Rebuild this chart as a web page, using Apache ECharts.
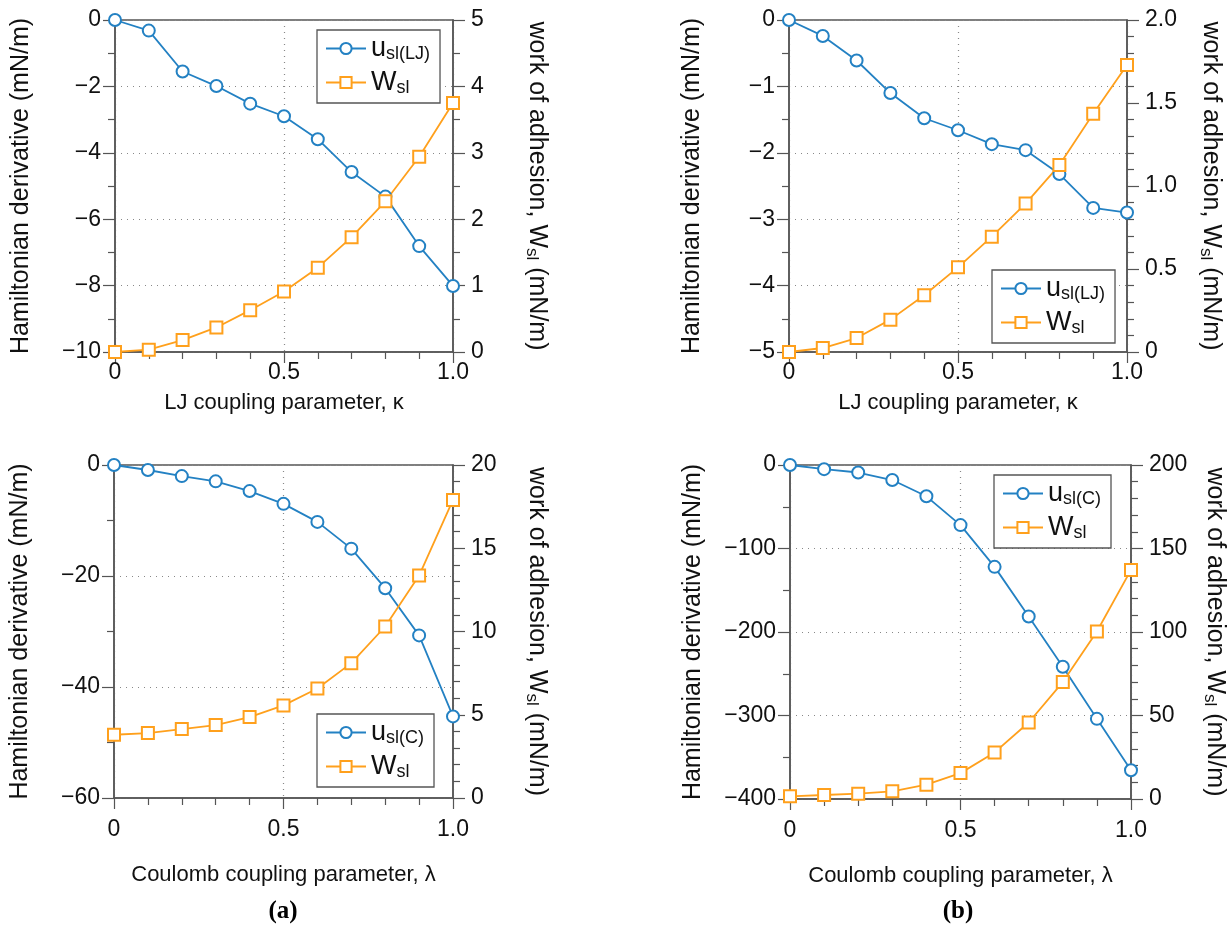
<!DOCTYPE html>
<html>
<head>
<meta charset="utf-8">
<script src="https://cdn.jsdelivr.net/npm/echarts@6/dist/echarts.min.js"></script>
<style>
  html, body { margin: 0; padding: 0; background: #fff; }
  #chart { width: 1232px; height: 929px; }
</style>
</head>
<body>
<div id="chart"></div>
<script>
// coupling parameter values (kappa for LJ, lambda for Coulomb)
const coupling = [0, 0.1, 0.2, 0.3, 0.4, 0.5, 0.6, 0.7, 0.8, 0.9, 1.0]

// (a) LJ
const uLJ_a = [0, -0.32, -1.55, -1.99, -2.52, -2.90, -3.59, -4.58, -5.32, -6.81, -8.01]
const wLJ_a = [0, 0.035, 0.18, 0.37, 0.63, 0.91, 1.27, 1.73, 2.27, 2.94, 3.75]
// (b) LJ
const uLJ_b = [0, -0.24, -0.61, -1.10, -1.48, -1.66, -1.87, -1.96, -2.32, -2.83, -2.90]
const wLJ_b = [0, 0.024, 0.084, 0.195, 0.342, 0.51, 0.695, 0.894, 1.126, 1.435, 1.729]
// (a) Coulomb
const uC_a = [0, -0.9, -2.0, -2.95, -4.7, -7.0, -10.25, -15.07, -22.2, -30.7, -45.3]
const wC_a = [3.80, 3.90, 4.14, 4.38, 4.86, 5.56, 6.58, 8.10, 10.3, 13.36, 17.9]
// (b) Coulomb
const uC_b = [0, -5, -9, -18, -37.5, -72, -122, -181.5, -241.6, -304, -365.6]
const wC_b = [1.6, 2.4, 3.2, 4.6, 8.6, 15.5, 27.9, 45.8, 70, 100.3, 137.2]

const BLUE = '#2381c3'
const ORANGE = '#ffa01c'
const AXIS = '#555'
const FONT = 'Liberation Sans'

const pts = ys => coupling.map((x, i) => [x, ys[i]])
const minus = v => (v < 0 ? '\u2212' + (-v) : String(v))
const oneDec = v => (v === 0 ? '0' : v.toFixed(1))

const grids = [
  { left: 115, top: 20, width: 338, height: 332 },
  { left: 789, top: 20, width: 338, height: 332 },
  { left: 114, top: 465, width: 339, height: 333 },
  { left: 790, top: 465, width: 341, height: 334 }
]

const xNames = [
  'LJ coupling parameter, \u03ba',
  'LJ coupling parameter, \u03ba',
  'Coulomb coupling parameter, \u03bb',
  'Coulomb coupling parameter, \u03bb'
]

const makeX = (i) => ({
  type: 'value',
  gridIndex: i,
  position: 'bottom',
  min: 0,
  max: 1,
  interval: 0.5,
  name: xNames[i],
  nameLocation: 'middle',
  nameGap: i < 2 ? 40 : 66,
  nameTextStyle: { fontFamily: FONT, fontSize: 22, color: '#111' },
  axisLine: { onZero: false, lineStyle: { color: AXIS, width: 1.5 } },
  axisTick: { inside: false, length: 11, lineStyle: { color: AXIS, width: 1.2 } },
  minorTick: { show: true, splitNumber: 5, length: 7, lineStyle: { color: AXIS, width: 1.2 } },
  axisLabel: { fontFamily: FONT, fontSize: 23, color: '#111', margin: i < 2 ? 9 : 20, formatter: oneDec },
  splitLine: { show: true, lineStyle: { color: '#888', type: [1, 5], width: 1.2 } }
})

const makeLeftY = (i, min, interval, split) => ({
  type: 'value',
  gridIndex: i,
  position: 'left',
  min: min,
  max: 0,
  interval: interval,
  name: 'Hamiltonian derivative (mN/m)',
  nameLocation: 'middle',
  nameGap: i % 2 === 0 ? 81 : 84,
  nameTextStyle: { fontFamily: FONT, fontSize: 25, color: '#111' },
  axisLine: { show: true, onZero: false, lineStyle: { color: AXIS, width: 1.5 } },
  axisTick: { inside: false, length: 12, lineStyle: { color: AXIS, width: 1.2 } },
  minorTick: { show: true, splitNumber: split, length: 7, lineStyle: { color: AXIS, width: 1.2 } },
  axisLabel: { fontFamily: FONT, fontSize: 23, color: '#111', margin: 14, formatter: minus },
  splitLine: { show: true, lineStyle: { color: '#888', type: [1, 5], width: 1.2 } }
})

const makeRightY = (i, max, interval, split, fmt) => ({
  type: 'value',
  gridIndex: i,
  position: 'right',
  min: 0,
  max: max,
  interval: interval,
  name: 'work of adhesion, W{s|sl} (mN/m)',
  nameLocation: 'middle',
  nameRotate: -90,
  nameGap: 70,
  nameTextStyle: {
    fontFamily: FONT, fontSize: 25, color: '#111', lineHeight: 28,
    rich: { s: { fontFamily: FONT, fontSize: 17, lineHeight: 17, verticalAlign: 'bottom', color: '#111' } }
  },
  axisLine: { show: true, onZero: false, lineStyle: { color: AXIS, width: 1.5 } },
  axisTick: { inside: false, length: 12, lineStyle: { color: AXIS, width: 1.2 } },
  minorTick: { show: true, splitNumber: split, length: 7, lineStyle: { color: AXIS, width: 1.2 } },
  axisLabel: { fontFamily: FONT, fontSize: 23, color: '#111', margin: 18, formatter: fmt || (v => String(v)) },
  splitLine: { show: false }
})

const lineSeries = (name, color, symbol, xi, yi, ys) => ({
  name: name,
  type: 'line',
  xAxisIndex: xi,
  yAxisIndex: yi,
  data: pts(ys),
  symbol: symbol,
  symbolSize: 12,
  showAllSymbol: true,
  lineStyle: { color: color, width: 1.8 },
  itemStyle: { color: color, borderColor: color, borderWidth: 1.8 },
  z: 3
})

const legendFmt = name => {
  if (name === 'Wsl') return '{m|W}{s|sl}'
  if (name === 'usl(LJ)') return '{m|u}{s|sl(LJ)}'
  return '{m|u}{s|sl(C)}'
}

const makeLegend = (left, top, first) => ({
  orient: 'vertical',
  left: left,
  top: top,
  data: [first, 'Wsl'],
  itemWidth: 40,
  itemHeight: 14,
  itemGap: 6,
  padding: [5, 10, 6, 8],
  borderColor: AXIS,
  borderWidth: 1.3,
  backgroundColor: '#fff',
  selectedMode: false,
  formatter: legendFmt,
  textStyle: {
    rich: {
      m: { fontFamily: FONT, fontSize: 27, lineHeight: 29, color: '#111' },
      s: { fontFamily: FONT, fontSize: 18, lineHeight: 18, verticalAlign: 'bottom', color: '#111' }
    }
  }
})

const chart = echarts.init(document.getElementById('chart'), null, { renderer: 'canvas' })

chart.setOption({
  backgroundColor: '#fff',
  animation: false,
  grid: grids.map(g => Object.assign({ show: true, borderColor: AXIS, borderWidth: 1.5, backgroundColor: 'transparent' }, g)),
  xAxis: [makeX(0), makeX(1), makeX(2), makeX(3)],
  yAxis: [
    makeLeftY(0, -10, 2, 2),
    makeRightY(0, 5, 1, 2),
    makeLeftY(1, -5, 1, 2),
    makeRightY(1, 2, 0.5, 5, oneDec),
    makeLeftY(2, -60, 20, 2),
    makeRightY(2, 20, 5, 5),
    makeLeftY(3, -400, 100, 2),
    makeRightY(3, 200, 50, 5)
  ],
  legend: [
    makeLegend(317, 30, 'usl(LJ)'),
    makeLegend(992, 270, 'usl(LJ)'),
    makeLegend(317, 714, 'usl(C)'),
    makeLegend(994, 475, 'usl(C)')
  ],
  series: [
    lineSeries('usl(LJ)', BLUE, 'emptyCircle', 0, 0, uLJ_a),
    lineSeries('Wsl', ORANGE, 'emptyRect', 0, 1, wLJ_a),
    lineSeries('usl(LJ)', BLUE, 'emptyCircle', 1, 2, uLJ_b),
    lineSeries('Wsl', ORANGE, 'emptyRect', 1, 3, wLJ_b),
    lineSeries('usl(C)', BLUE, 'emptyCircle', 2, 4, uC_a),
    lineSeries('Wsl', ORANGE, 'emptyRect', 2, 5, wC_a),
    lineSeries('usl(C)', BLUE, 'emptyCircle', 3, 6, uC_b),
    lineSeries('Wsl', ORANGE, 'emptyRect', 3, 7, wC_b)
  ],
  graphic: [
    { type: 'text', x: 283, y: 912, style: { text: '(a)', fontFamily: 'Liberation Serif', fontWeight: 'bold', fontSize: 25, fill: '#000', align: 'center', verticalAlign: 'middle' } },
    { type: 'text', x: 958, y: 912, style: { text: '(b)', fontFamily: 'Liberation Serif', fontWeight: 'bold', fontSize: 25, fill: '#000', align: 'center', verticalAlign: 'middle' } }
  ]
})
</script>
</body>
</html>
